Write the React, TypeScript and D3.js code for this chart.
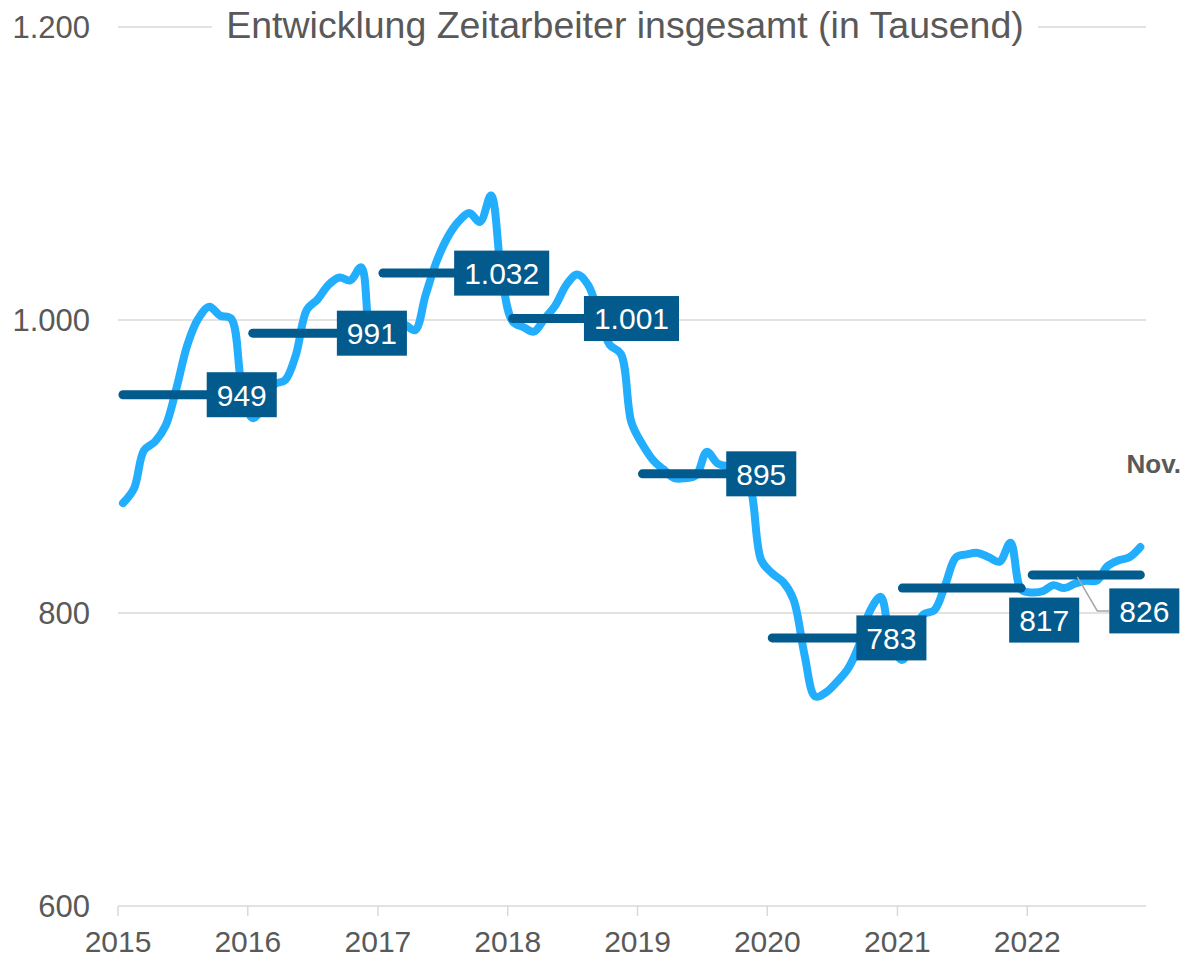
import React from "react";
import * as d3 from "d3";

// ---------- data ----------
const title = "Entwicklung Zeitarbeiter insgesamt (in Tausend)";
const lastMonthLabel = "Nov.";
const years = [2015, 2016, 2017, 2018, 2019, 2020, 2021, 2022];
const v2015 = [875, 885, 911, 917, 928, 954, 983, 1001, 1009, 1003, 1001, 955];
const v2016 = [933, 942, 956, 959, 976, 1007, 1014, 1024, 1029, 1027, 1036, 986];
const v2017 = [980, 993, 997, 993, 1017, 1040, 1056, 1067, 1073, 1067, 1085, 1030];
const v2018 = [999, 995, 992, 1001, 1010, 1024, 1031, 1024, 1003, 983, 977, 930];
const v2019 = [915, 904, 898, 892, 892, 894, 910, 902, 900, 899, 885, 836];
const v2020 = [827, 821, 809, 771, 743, 746, 753, 762, 778, 801, 811, 778];
const v2021 = [768, 785, 799, 802, 819, 838, 840, 841, 838, 835, 848, 816];
const v2022 = [814, 815, 819, 817, 820, 822, 822, 832, 836, 838, 845];
const yearValues = [v2015, v2016, v2017, v2018, v2019, v2020, v2021, v2022];
const averages = [949, 991, 1032, 1001, 895, 783, 817, 826];
const yTicks = [600, 800, 1000, 1200];

// ---------- layout / style ----------
const W = 1184;
const H = 960;
const FONT = "'Liberation Sans', Arial, Helvetica, sans-serif";
const GREY = "#595959";
const GRID = "#d9d9d9";
const LIGHT = "#22aefc";
const DARK = "#035a8c";
const labelOffsets: Record<number, { dx: number; dy: number; leader?: boolean }> = {
  2021: { dx: 23, dy: 32 },
  2022: { dx: 4, dy: 36, leader: true },
};

const de = d3.formatLocale({
  decimal: ",",
  thousands: ".",
  grouping: [3],
  currency: ["", " €"],
});
const fmt = de.format(",d");

function textWidth(s: string, size: number) {
  let w = 0;
  for (const c of s) w += c === "." || c === "," ? 0.278 : 0.556;
  return w * size;
}

export default function App() {
  const x = d3
    .scaleTime()
    .domain([new Date(2015, 0, 1), new Date(2022, 11, 1)])
    .range([118, 1146]);
  const y = d3.scaleLinear().domain([600, 1200]).range([906, 27]);

  const points: { date: Date; value: number; year: number }[] = [];
  yearValues.forEach((vals, yi) => {
    vals.forEach((v, m) => {
      points.push({ date: new Date(years[yi], m, 15), value: v, year: years[yi] });
    });
  });

  const line = d3
    .line<{ date: Date; value: number }>()
    .x((d) => x(d.date))
    .y((d) => y(d.value))
    .curve(d3.curveCatmullRom.alpha(0.5));

  const xTicks = years.map((yr) => new Date(yr, 0, 1));
  const [x0, x1] = x.range();
  const boxFont = 30;

  return (
    <svg
      width={W}
      height={H}
      style={{ position: "absolute", left: 0, top: 0, background: "#fff" }}
      fontFamily={FONT}
    >
      {/* gridlines */}
      {yTicks.map((t) => (
        <line key={t} x1={x0} x2={x1} y1={y(t)} y2={y(t)} stroke={GRID} strokeWidth={1.5} />
      ))}
      {/* x ticks */}
      {xTicks.map((d, i) => (
        <g key={i}>
          <line x1={x(d)} x2={x(d)} y1={y(600)} y2={y(600) + 10} stroke={GRID} strokeWidth={1.5} />
          <text x={x(d)} y={952} textAnchor="middle" fontSize={30} fill={GREY}>
            {years[i]}
          </text>
        </g>
      ))}
      {/* y labels */}
      {yTicks.map((t) => (
        <text key={t} x={90} y={y(t)} dy="0.36em" textAnchor="end" fontSize={31} fill={GREY}>
          {fmt(t)}
        </text>
      ))}
      {/* title */}
      <rect x={212} y={0} width={826} height={52} fill="#fff" />
      <text x={625} y={38} textAnchor="middle" fontSize={37.5} fill={GREY}>
        {title}
      </text>

      {/* monthly line */}
      <path d={line(points) || ""} fill="none" stroke={LIGHT} strokeWidth={8} strokeLinejoin="round" strokeLinecap="round" />

      {/* annual average bars */}
      {years.map((yr, i) => {
        const pts = points.filter((p) => p.year === yr);
        const xa = x(pts[0].date);
        const xb = x(pts[pts.length - 1].date);
        return (
          <line
            key={yr}
            x1={xa}
            x2={xb}
            y1={y(averages[i])}
            y2={y(averages[i])}
            stroke={DARK}
            strokeWidth={9}
            strokeLinecap="round"
          />
        );
      })}

      {/* labels */}
      {years.map((yr, i) => {
        const pts = points.filter((p) => p.year === yr);
        const off = labelOffsets[yr] || { dx: 0, dy: 0 };
        const cx = x(pts[pts.length - 1].date) + off.dx;
        const cy = y(averages[i]) + off.dy;
        const txt = fmt(averages[i]);
        const bw = textWidth(txt, boxFont) + 20;
        const bh = 45;
        const left = cx - bw / 2;
        return (
          <g key={yr}>
            {off.leader && (
              <polyline
                points={`${left - 32},${y(averages[i]) + 2} ${left - 12},${cy} ${left},${cy}`}
                fill="none"
                stroke="#a6a6a6"
                strokeWidth={1.5}
              />
            )}
            <rect x={left} y={cy - bh / 2} width={bw} height={bh} fill={DARK} />
            <text x={cx} y={cy} dy="0.36em" textAnchor="middle" fontSize={boxFont} fill="#fff">
              {txt}
            </text>
          </g>
        );
      })}

      <text x={1181} y={473} textAnchor="end" fontSize={26} fontWeight="bold" fill={GREY}>
        {lastMonthLabel}
      </text>
    </svg>
  );
}
